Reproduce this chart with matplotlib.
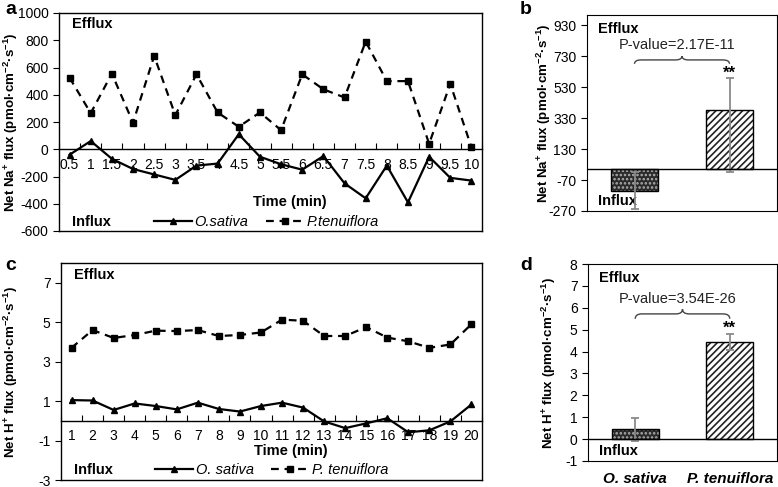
import matplotlib
matplotlib.use("Agg")
import matplotlib.pyplot as plt
from matplotlib.path import Path
from matplotlib.patches import PathPatch
import numpy as np

plt.rcParams['font.family'] = ['Liberation Sans', 'DejaVu Sans']
plt.rcParams['mathtext.fontset'] = 'custom'
plt.rcParams['mathtext.rm'] = 'Liberation Sans'
plt.rcParams['mathtext.bf'] = 'Liberation Sans:bold'
plt.rcParams['mathtext.it'] = 'Liberation Sans:italic'
plt.rcParams['hatch.linewidth'] = 1.2
plt.rcParams['axes.unicode_minus'] = False

# ---------------- data ----------------
na_time = ['0.5', '1', '1.5', '2', '2.5', '3', '3.5', '4', '4.5', '5',
           '5.5', '6', '6.5', '7', '7.5', '8', '8.5', '9', '9.5', '10']
na_osativa = [-40, 60, -70, -145, -185, -225, -120, -105, 110, -55,
              -110, -150, -50, -250, -360, -120, -390, -55, -210, -230]
na_ptenu = [525, 265, 555, 195, 685, 250, 550, 270, 165, 270,
            140, 550, 440, 380, 790, 500, 500, 40, 480, 15]

h_time = [str(i) for i in range(1, 21)]
h_osativa = [1.05, 1.03, 0.55, 0.88, 0.75, 0.58, 0.92, 0.60, 0.47, 0.75,
             0.92, 0.67, -0.03, -0.37, -0.13, 0.13, -0.58, -0.48, -0.03, 0.83]
h_ptenu = [3.70, 4.60, 4.20, 4.35, 4.57, 4.55, 4.60, 4.30, 4.35, 4.48,
           5.13, 5.07, 4.30, 4.30, 4.75, 4.22, 4.03, 3.70, 3.87, 4.90]

species = ['O. sativa', 'P. tenuiflora']
na_mean = [-138, 379]
na_err_low = [121, 398]
na_err_high = [121, 209]
h_mean = [0.44, 4.42]
h_err_low = [0.53, 0.36]
h_err_high = [0.53, 0.38]

na_pvalue = 'P-value=2.17E-11'
h_pvalue = 'P-value=3.54E-26'

# ---------------- figure ----------------
W, H = 778, 487
fig = plt.figure(figsize=(W / 100, H / 100), dpi=100)

def rect(l, t, r, b):
    return [l / W, 1 - b / H, (r - l) / W, (b - t) / H]

ax_a = fig.add_axes(rect(59, 13, 482, 231))
ax_b = fig.add_axes(rect(587, 15, 777, 211))
ax_c = fig.add_axes(rect(61, 263, 482, 480))
ax_d = fig.add_axes(rect(588, 264, 777, 461))

TICKFS = 10
LBLFS = 9.6

def line_panel(ax, labels, s1, s2, ylim, yticks, names, ylabel, lblx):
    x = np.arange(len(labels))
    ax.plot(x, s1, color='black', lw=1.6, marker='^', ms=5, label=names[0])
    ax.plot(x, s2, color='black', lw=1.6, ls=(0, (3.5, 2.6)), marker='s', ms=5,
            label=names[1])
    ax.set_xlim(-0.5, len(labels) - 0.5)
    ax.set_ylim(*ylim)
    ax.set_yticks(yticks)
    ax.spines['bottom'].set_position(('data', 0))
    ax.spines['bottom'].set_linewidth(1.0)
    ax.set_xticks(x)
    ax.set_xticklabels(labels, fontsize=TICKFS)
    ax.set_xticks(np.arange(len(labels) + 1) - 0.5, minor=True)
    ax.tick_params(axis='x', which='major', length=0, pad=6)
    ax.tick_params(axis='x', which='minor', length=4, direction='in', width=0.8)
    ax.tick_params(axis='y', length=4, direction='out', labelsize=TICKFS, width=0.8)
    ax.plot([0, 1], [0, 0], transform=ax.transAxes, color='black', lw=1.0,
            clip_on=False)
    ax.set_ylabel(ylabel, fontsize=LBLFS, fontweight='bold')
    ax.yaxis.set_label_coords(lblx, 0.5)
    for s in ['top', 'right', 'left']:
        ax.spines[s].set_linewidth(1.0)

line_panel(ax_a, na_time, na_osativa, na_ptenu, (-600, 1000),
           [-600, -400, -200, 0, 200, 400, 600, 800, 1000],
           ['O.sativa', 'P.tenuiflora'],
           r'Net Na$^{\mathbf{+}}$ flux (pmol·cm$^{\mathbf{-2}}$·s$^{\mathbf{-1}}$)',
           -0.092)
line_panel(ax_c, h_time, h_osativa, h_ptenu, (-3, 8),
           [-3, -1, 1, 3, 5, 7],
           ['O. sativa', 'P. tenuiflora'],
           r'Net H$^{\mathbf{+}}$ flux (pmol·cm$^{\mathbf{-2}}$·s$^{\mathbf{-1}}$)',
           -0.097)

for ax, ty, iy, tmy, legx in [(ax_a, 0.95, 0.04, 0.133, 0.49),
                               (ax_c, 0.945, 0.045, 0.134, 0.50)]:
    ax.text(0.03, ty, 'Efflux', transform=ax.transAxes, fontsize=10.5,
            fontweight='bold', va='center', ha='left')
    ax.text(0.03, iy, 'Influx', transform=ax.transAxes, fontsize=10.5,
            fontweight='bold', va='center', ha='left')
    ax.text(0.545, tmy, 'Time (min)', transform=ax.transAxes, fontsize=10.5,
            fontweight='bold', va='center', ha='center')
    leg = ax.legend(loc='center', bbox_to_anchor=(legx, iy), ncol=2, frameon=False,
                    fontsize=10.5, handlelength=2.6, columnspacing=1.2,
                    handletextpad=0.2, borderaxespad=0, borderpad=0)
    for t in leg.get_texts():
        t.set_fontstyle('italic')


def brace(ax, x0, x1, y, h, color='#444444'):
    xm = (x0 + x1) / 2
    d = (x1 - x0) * 0.07
    verts = [(x0, y - h), (x0, y), (x0 + d, y),
             (xm - d, y), (xm, y), (xm, y + h),
             (xm, y), (xm + d, y),
             (x1 - d, y), (x1, y), (x1, y - h)]
    codes = [Path.MOVETO, Path.CURVE3, Path.CURVE3,
             Path.LINETO, Path.CURVE3, Path.CURVE3,
             Path.CURVE3, Path.CURVE3,
             Path.LINETO, Path.CURVE3, Path.CURVE3]
    ax.add_patch(PathPatch(Path(verts, codes), fill=False, edgecolor=color, lw=1.0))


def bar_panel(ax, means, elow, ehigh, ylim, yticks, ylabel, lblx, pval,
              brace_y, brace_h, pval_y, star_y, show_x):
    x = np.arange(len(means))
    ax.bar(x[0], means[0], width=0.5, color='#2a2a2a', hatch='....',
           edgecolor='#b0b0b0', lw=0, zorder=2)
    ax.bar(x[0], means[0], width=0.5, fill=False, edgecolor='black', lw=1.0, zorder=3)
    ax.bar(x[1], means[1], width=0.5, color='white', hatch='/////',
           edgecolor='#222222', lw=0, zorder=2)
    ax.bar(x[1], means[1], width=0.5, fill=False, edgecolor='black', lw=1.0, zorder=3)
    ax.errorbar(x, means, yerr=[elow, ehigh], fmt='none', ecolor='#8a8a8a',
                elinewidth=1.3, capsize=3, capthick=1.3, zorder=4)
    ax.axhline(0, color='black', lw=1.0, zorder=5)
    ax.set_xlim(-0.5, 1.5)
    ax.set_ylim(*ylim)
    ax.set_yticks(yticks)
    ax.tick_params(axis='y', length=4, direction='out', labelsize=TICKFS, width=0.8)
    ax.tick_params(axis='x', length=0, pad=8)
    ax.set_xticks(x)
    if show_x:
        ax.set_xticklabels(species, fontsize=11, fontweight='bold', fontstyle='italic')
    else:
        ax.set_xticklabels([])
    ax.set_ylabel(ylabel, fontsize=LBLFS, fontweight='bold')
    ax.yaxis.set_label_coords(lblx, 0.5)
    ax.text(0.058, 0.93, 'Efflux', transform=ax.transAxes, fontsize=10.5,
            fontweight='bold', va='center', ha='left')
    ax.text(0.058, 0.05, 'Influx', transform=ax.transAxes, fontsize=10.5,
            fontweight='bold', va='center', ha='left')
    brace(ax, x[0], x[1], brace_y, brace_h)
    ax.text(0.45, pval_y, pval, fontsize=10.5, ha='center', va='center', color='#222222')
    ax.text(x[1], star_y, '**', fontsize=12, fontweight='bold', ha='center', va='center')


bar_panel(ax_b, na_mean, na_err_low, na_err_high, (-270, 995),
          [-270, -70, 130, 330, 530, 730, 930],
          r'Net Na$^{\mathbf{+}}$ flux (pmol·cm$^{\mathbf{-2}}$·s$^{\mathbf{-1}}$)',
          -0.179, na_pvalue, 705, 25, 800, 620, False)
bar_panel(ax_d, h_mean, h_err_low, h_err_high, (-1, 8),
          list(range(-1, 9)),
          r'Net H$^{\mathbf{+}}$ flux (pmol·cm$^{\mathbf{-2}}$·s$^{\mathbf{-1}}$)',
          -0.159, h_pvalue, 5.72, 0.22, 6.39, 5.05, True)

for lbl, px, py in [('a', 5, 10), ('b', 520, 10), ('c', 5, 266), ('d', 520, 266)]:
    fig.text(px / W, 1 - py / H, lbl, fontsize=14, fontweight='bold',
             ha='left', va='center')

fig.savefig('out.png', dpi=100)
